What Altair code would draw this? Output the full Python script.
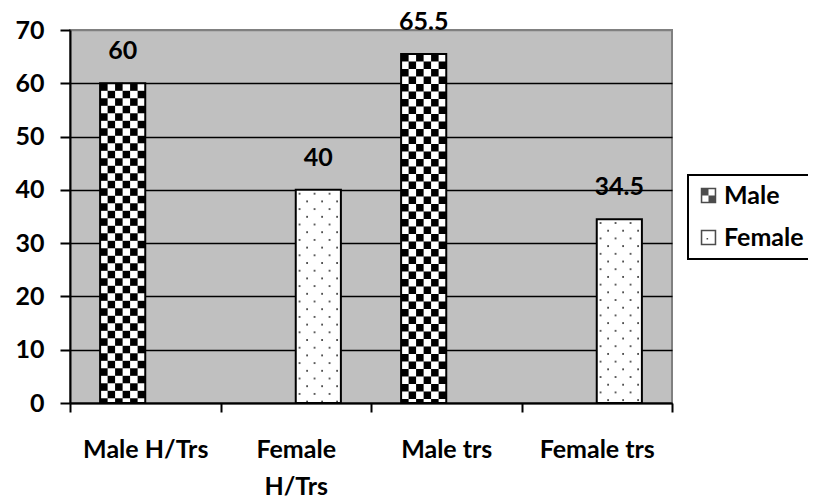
import base64
import altair as alt
import pandas as pd

# ---- data ----
categories = ["Male H/Trs", "Female H/Trs", "Male trs", "Female trs"]
series = ["Male", "Female", "Male", "Female"]
values = [60, 40, 65.5, 34.5]
series_order = ["Male", "Female"]
y_ticks = [0, 10, 20, 30, 40, 50, 60, 70]

# ---- pattern fills (styles) ----
checker_svg = (
    "<svg xmlns='http://www.w3.org/2000/svg' width='100%' height='100%'>"
    "<defs><pattern id='p' x='0' y='0' width='15' height='15' patternUnits='userSpaceOnUse'>"
    "<rect width='15' height='15' fill='#ffffff'/>"
    "<rect width='7.5' height='7.5' fill='#000000'/>"
    "<rect x='7.5' y='7.5' width='7.5' height='7.5' fill='#000000'/>"
    "</pattern></defs><rect width='100%' height='100%' fill='url(#p)'/></svg>"
)
dots_svg = (
    "<svg xmlns='http://www.w3.org/2000/svg' width='100%' height='100%'>"
    "<defs><pattern id='d' x='0' y='0' width='15' height='15.4' patternUnits='userSpaceOnUse'>"
    "<rect width='15' height='15.4' fill='#ffffff'/>"
    "<rect x='3' y='3' width='1.7' height='1.7' fill='#333333'/>"
    "<rect x='10.5' y='10.7' width='1.7' height='1.7' fill='#333333'/>"
    "</pattern></defs><rect width='100%' height='100%' fill='url(#d)'/></svg>"
)


def to_url(svg):
    return "data:image/svg+xml;base64," + base64.b64encode(svg.encode()).decode()


pattern_url = {"Male": to_url(checker_svg), "Female": to_url(dots_svg)}

# legend symbol paths (ring + checker quadrants / ring + dot)
ring = "M-1,-1H1V1H-1Z M-0.8,-0.8V0.8H0.8V-0.8Z "
male_sym = ring + "M-0.8,-0.8H0V0H-0.8Z M0,0H0.8V0.8H0Z"
female_sym = ring + "M-0.25,0.05H-0.05V0.25H-0.25Z"

df = pd.DataFrame({
    "category": categories,
    "series": series,
    "value": values,
    "img": [pattern_url[s] for s in series],
})

FONT = "Lato"
FS = 25

x_enc = alt.X(
    "category:N",
    sort=categories,
    scale=alt.Scale(paddingInner=0, paddingOuter=0),
    axis=alt.Axis(
        title=None,
        labelAngle=0,
        tickBand="extent",
        tickSize=9,
        tickWidth=2,
        tickColor="black",
        domainColor="black",
        domainWidth=2,
        labelFont=FONT,
        labelFontSize=FS,
        labelFontWeight="bold",
        labelColor="black",
        labelBaseline="top",
        labelPadding=25,
        labelLineHeight=37,
        labelExpr="datum.label == 'Female H/Trs' ? ['Female', 'H/Trs'] : datum.label",
    ),
)
xo_enc = alt.XOffset(
    "series:N",
    sort=series_order,
    scale=alt.Scale(domain=series_order, paddingInner=0, paddingOuter=0.667),
)
y_enc = alt.Y(
    "value:Q",
    scale=alt.Scale(domain=[0, 70], nice=False),
    axis=alt.Axis(
        title=None,
        values=y_ticks,
        tickSize=10,
        tickWidth=2,
        tickColor="black",
        domainColor="black",
        domainWidth=2,
        grid=True,
        gridColor=alt.condition("datum.value == 70", alt.value("#808080"), alt.value("black")),
        gridWidth=1.3,
        labelFont=FONT,
        labelFontSize=FS,
        labelFontWeight="bold",
        labelColor="black",
        labelPadding=16,
    ),
)

base = alt.Chart(df).encode(x=x_enc, xOffset=xo_enc, y=y_enc)

bars_img = base.mark_image(aspect=False).encode(url="img:N")
bars_outline = base.mark_bar(fillOpacity=0, stroke="black", strokeWidth=2)
labels = base.mark_text(
    baseline="alphabetic", dy=-24, font=FONT, fontSize=FS, fontWeight="bold", color="black"
).encode(text=alt.Text("value:Q"))
legend_pts = base.mark_point(filled=True, size=1, color="black").encode(
    shape=alt.Shape(
        "series:N",
        sort=series_order,
        scale=alt.Scale(domain=series_order, range=[male_sym, female_sym]),
        legend=alt.Legend(
            title=None,
            orient="none",
            legendX=618,
            legendY=145,
            symbolSize=240,
            symbolStrokeWidth=0,
            symbolFillColor="black",
            labelFont=FONT,
            labelFontSize=FS,
            labelFontWeight="bold",
            labelColor="black",
            labelOffset=3,
            rowPadding=16,
            padding=8,
            strokeColor="black",
        ),
    )
)

chart = (
    alt.layer(bars_img, bars_outline, legend_pts, labels)
    .properties(
        width=602,
        height=373,
        autosize=alt.AutoSizeParams(type="none"),
        padding={"left": 62, "top": 22, "right": 136, "bottom": 93},
    )
    .configure_view(fill="#C0C0C0", stroke="#808080", strokeWidth=2)
    .configure_legend(strokeWidth=2)
)

chart.save("out.html", embed_options={"renderer": "svg", "actions": False})
